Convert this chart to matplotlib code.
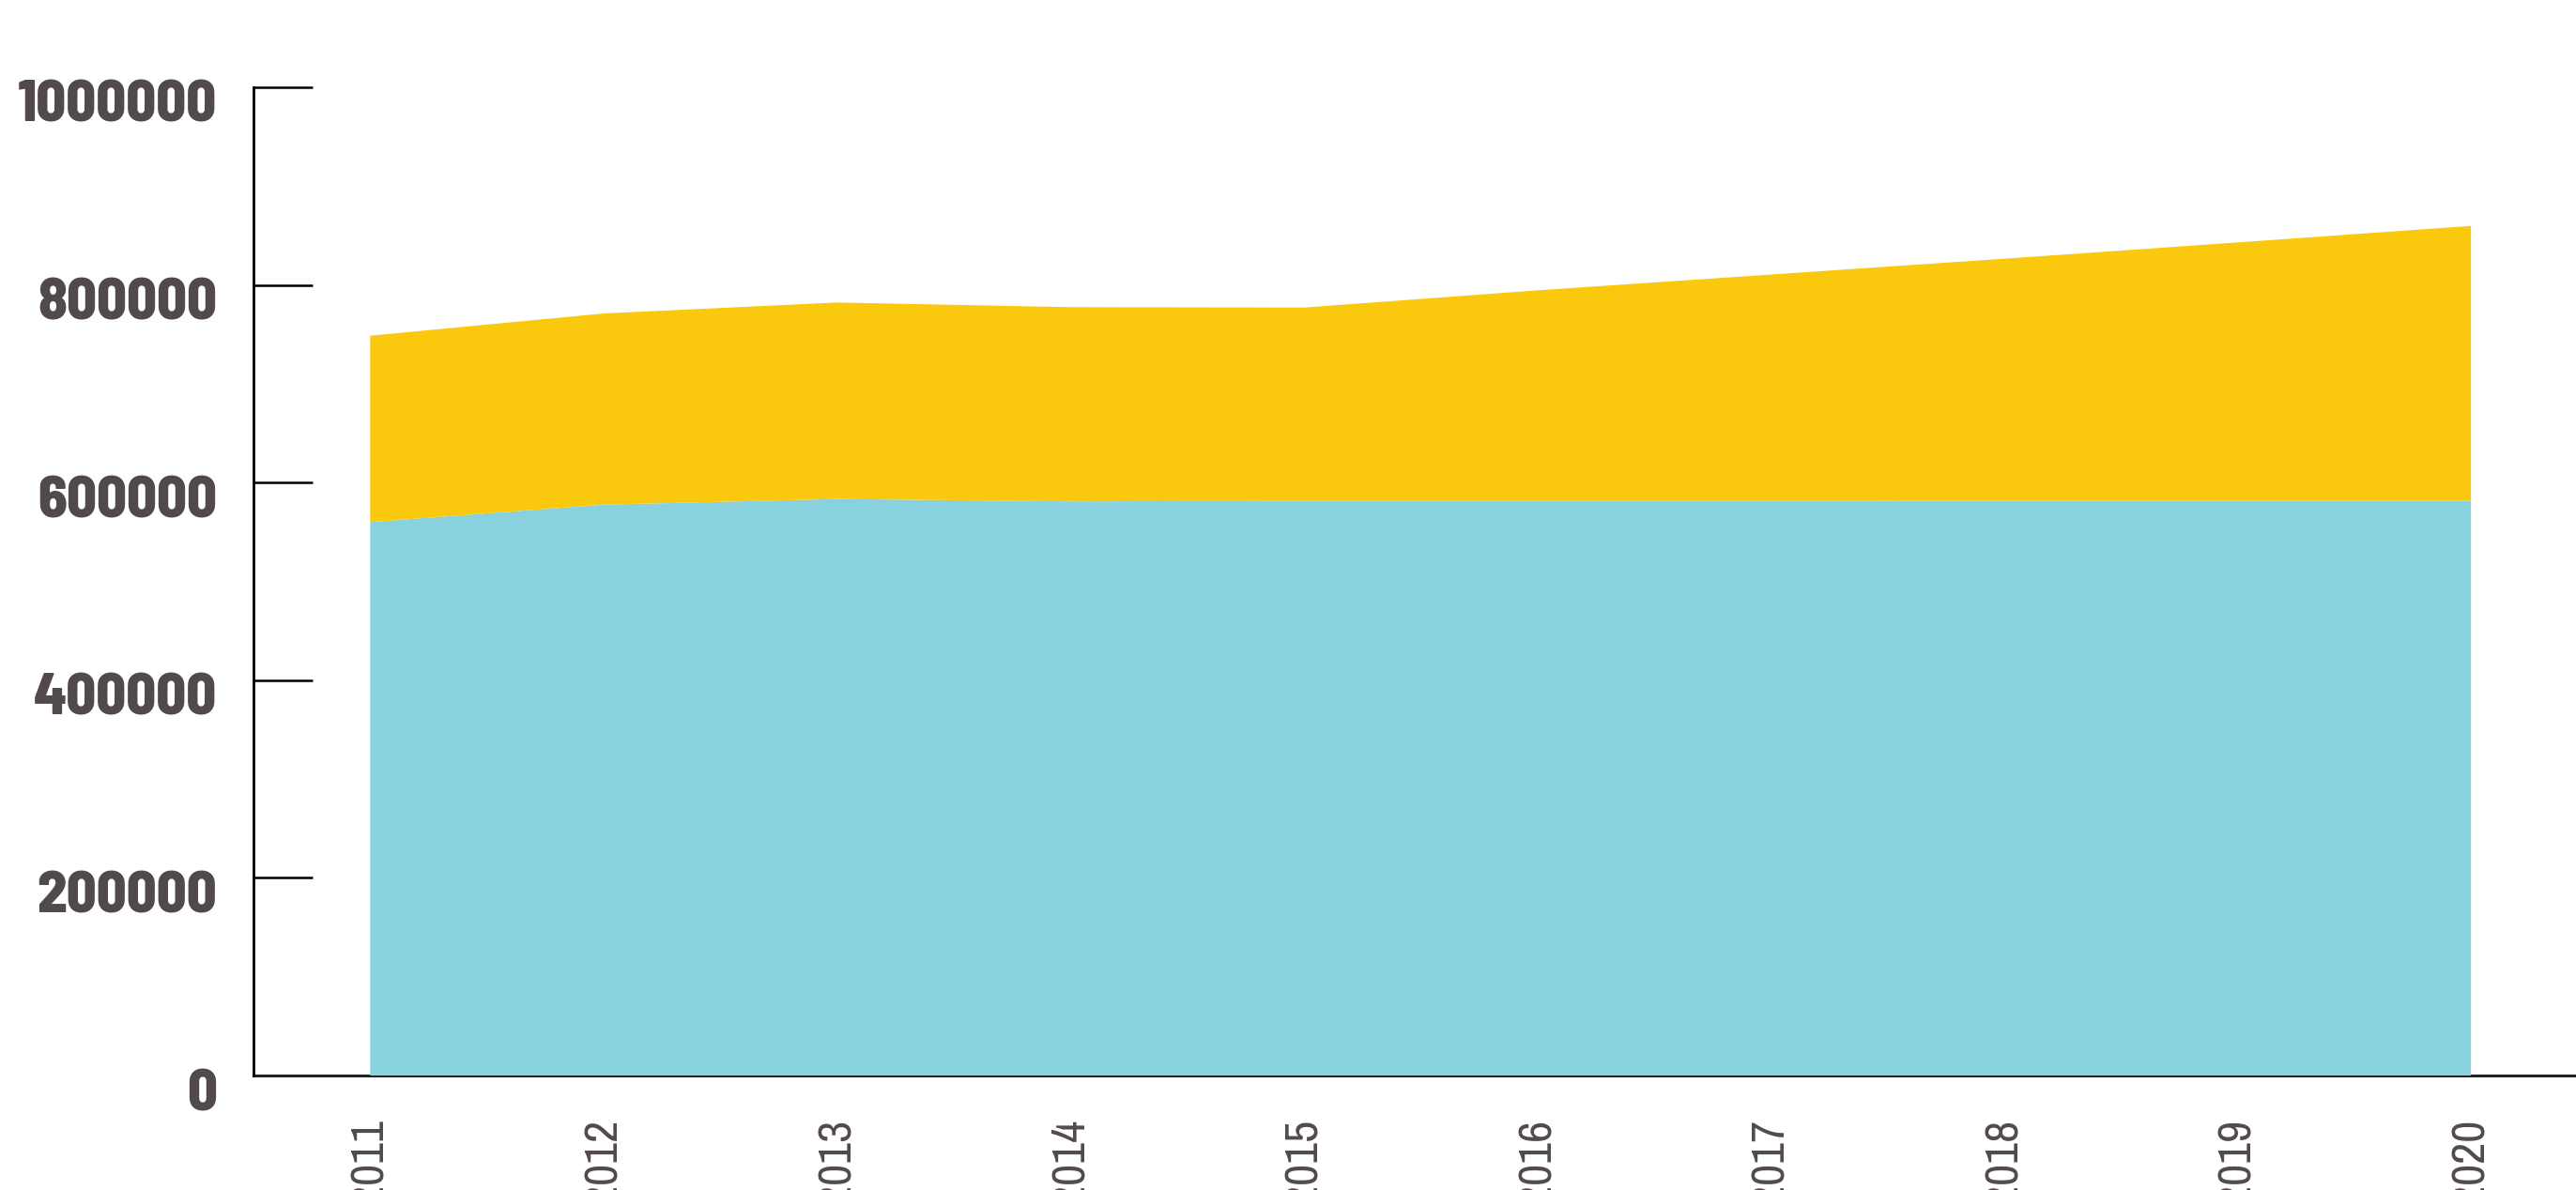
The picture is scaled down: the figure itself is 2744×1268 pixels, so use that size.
import matplotlib
matplotlib.use("Agg")
import matplotlib.pyplot as plt
from matplotlib import font_manager as fm
from matplotlib.textpath import TextPath
import matplotlib.transforms as mtransforms

years = [2011, 2012, 2013, 2014, 2015, 2016, 2017, 2018, 2019, 2020]
series_lower = [560000, 577700, 583400, 581000, 581500, 581500, 581500, 581600, 581600, 581700]
series_total = [748600, 771100, 782200, 777500, 777100, 794500, 810500, 826500, 843000, 859700]
series_upper = [t - b for t, b in zip(series_total, series_lower)]
y_ticks = [0, 200000, 400000, 600000, 800000, 1000000]
y_tick_labels = [str(v) for v in y_ticks]
x_tick_labels = [str(y) for y in years]

BLUE = "#88D2E0"
YELLOW = "#FAC80D"
LABEL = "#524A4A"


def _w(f):
    if isinstance(f.weight, (int, float)):
        return f.weight
    s = str(f.weight).lower()
    if "bold" in s or "black" in s or "heavy" in s:
        return 700
    if "light" in s or "thin" in s:
        return 300
    return 400


def _is_condensed(f):
    st = f.stretch
    low = f.fname.lower()
    return ("narrow" in low or "condensed" in low or "Narrow" in f.name or
            "Condensed" in f.name or
            (isinstance(st, str) and "condensed" in st) or
            (isinstance(st, (int, float)) and st < 500))


def ink(text, fp):
    ext = TextPath((0, 0), text, size=100, prop=fp).get_extents()
    return ext.width, ext.height


def find_font(wmin, wmax, sample, target_ratio, fallback):
    best, best_err = None, None
    n = 0
    for f in fm.fontManager.ttflist:
        low = f.fname.lower()
        if not _is_condensed(f):
            continue
        if f.style != "normal" or "oblique" in low or "italic" in low:
            continue
        if not (wmin <= _w(f) <= wmax):
            continue
        if "cjk" in low or low.endswith(".ttc"):
            continue
        n += 1
        if n > 40:
            break
        try:
            fp = fm.FontProperties(fname=f.fname)
            w, _ = ink(sample, fp)
            _, h = ink("0", fp)
        except Exception:
            continue
        if h <= 0:
            continue
        err = abs(w / h - target_ratio)
        if best_err is None or err < best_err:
            best, best_err = fp, err
    return best or fallback


fp_y = find_font(600, 800, "1000000", 210 / 45,
                 fm.FontProperties(family="Roboto", weight="bold"))
fp_x = find_font(300, 450, "2020", 88 / 36,
                 fm.FontProperties(family="Roboto", weight="normal"))

# target ink sizes in pixels (dpi 100 -> pt = px * 0.72)
wy, _ = ink("1000000", fp_y)
_, h0y = ink("0", fp_y)
size_y = min(100 * 218 * 0.72 / wy, 100 * 45 * 0.72 / h0y)

wx, _ = ink("2020", fp_x)
_, h0x = ink("0", fp_x)
size_x = 0.5 * (100 * 88 * 0.72 / wx + 100 * 36 * 0.72 / h0x)

fig = plt.figure(figsize=(27.44, 12.68), dpi=100)
ax = fig.add_axes([270 / 2744, 1 - 1146 / 1268, 1 - 270 / 2744, (1146 - 93) / 1268])

ax.stackplot(years, series_lower, series_upper, colors=[BLUE, YELLOW],
             linewidth=0, zorder=3)

ax.set_xlim(2010.5, 2020.45)
ax.set_ylim(0, 1000000)

for s in ["top", "right"]:
    ax.spines[s].set_visible(False)
ax.spines["left"].set_linewidth(2.0)
ax.spines["bottom"].set_linewidth(2.2)
ax.spines["left"].set_color("black")
ax.spines["bottom"].set_color("#222222")
ax.spines["bottom"].set_zorder(2)

ax.set_yticks(y_ticks)
ax.set_yticklabels(y_tick_labels, color=LABEL)
for lab in ax.get_yticklabels():
    lab.set_fontproperties(fp_y)
    lab.set_fontsize(size_y)
ax.tick_params(axis="y", direction="in", length=45, width=1.8, color="black", pad=28)
offset = mtransforms.ScaledTranslation(0, -15 / 100, fig.dpi_scale_trans)
for lab in ax.get_yticklabels():
    lab.set_transform(lab.get_transform() + offset)

ax.set_xticks(years)
ax.set_xticklabels(x_tick_labels, rotation=90, color=LABEL)
for lab in ax.get_xticklabels():
    lab.set_fontproperties(fp_x)
    lab.set_fontsize(size_x)
ax.tick_params(axis="x", length=0, pad=33)

ax.set_facecolor("white")
fig.patch.set_facecolor("white")
fig.savefig("out.png", dpi=100)
